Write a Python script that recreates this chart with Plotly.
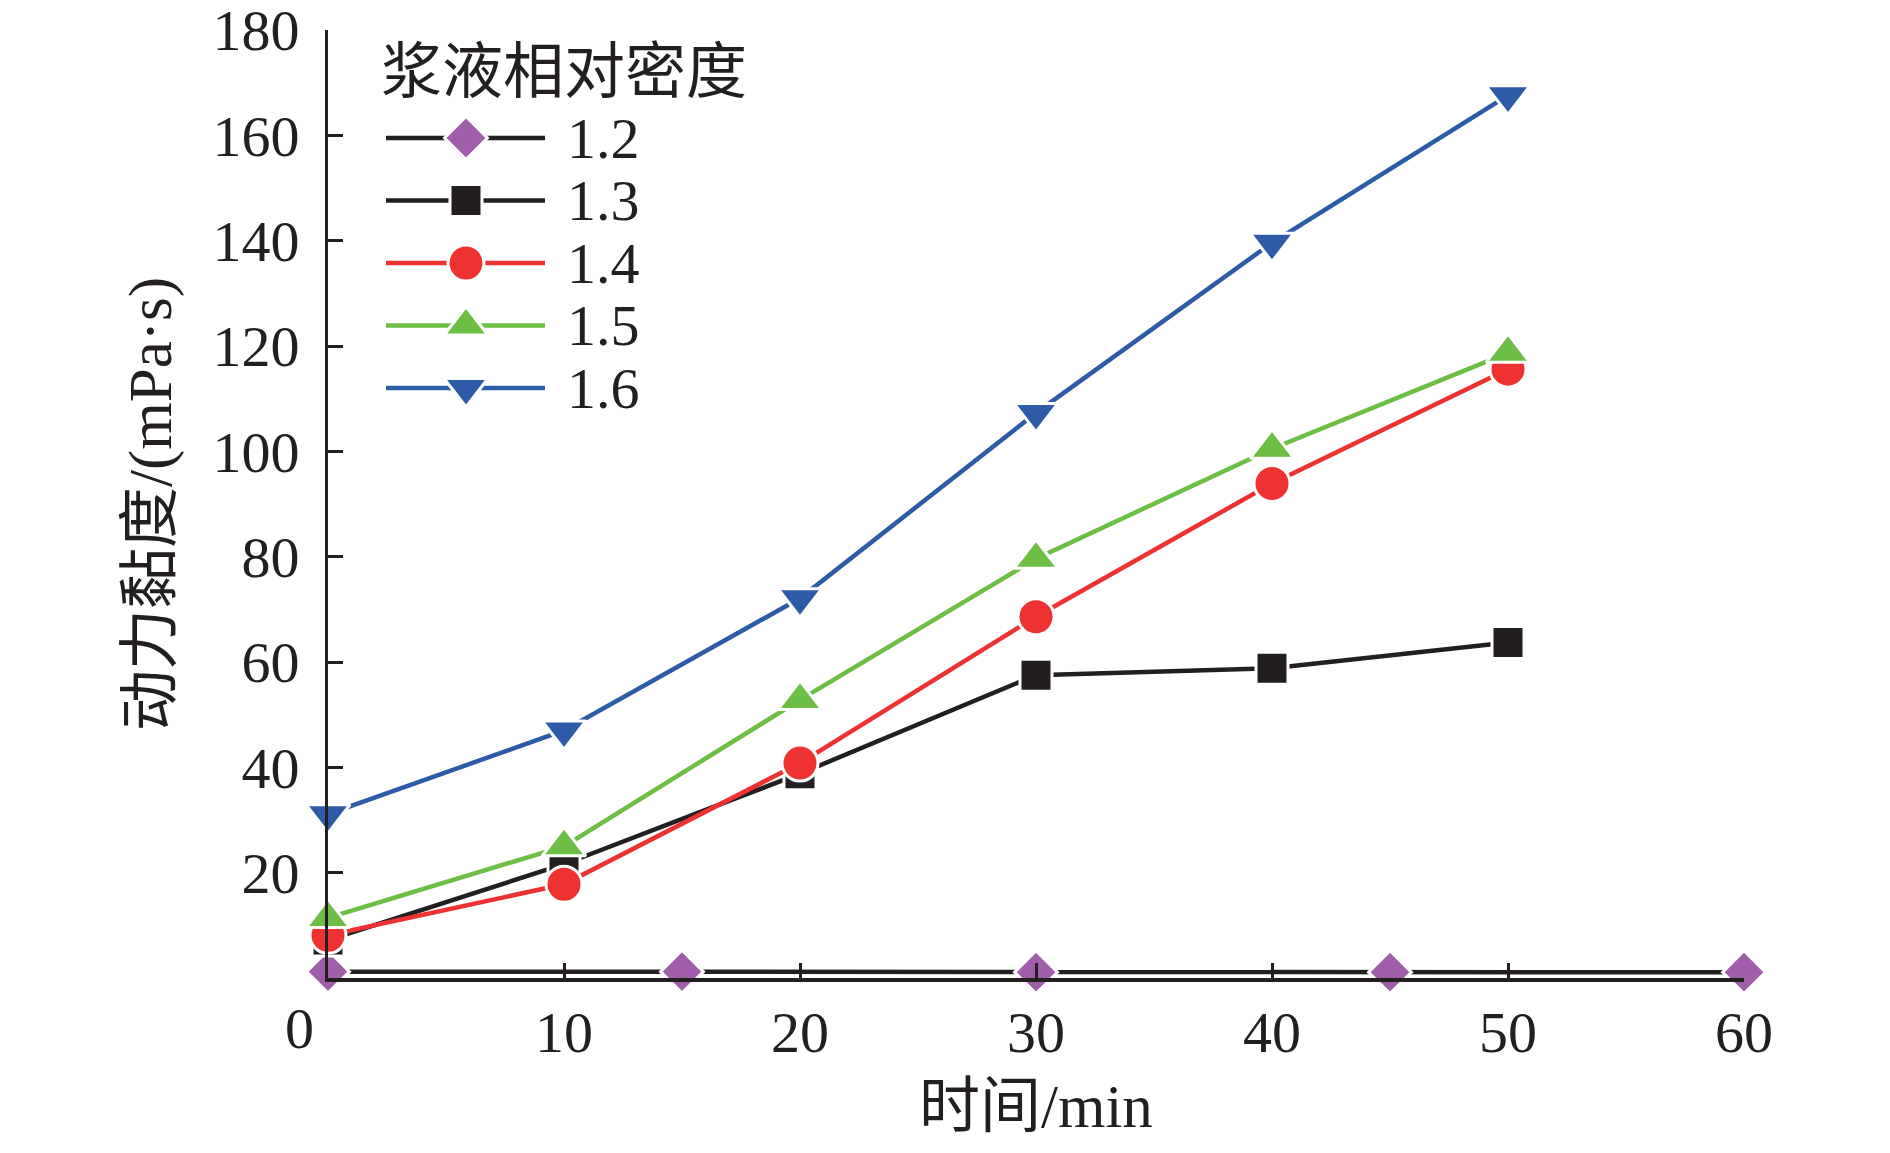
import plotly.graph_objects as go

# --- data ---
x_12 = [0, 15, 30, 45, 60]
y_12 = [1.2, 1.2, 1.1, 1.1, 1.1]

x_main = [0, 10, 20, 30, 40, 50]
y_13 = [7.2, 21.6, 38.8, 57.5, 58.8, 63.7]
y_14 = [8.1, 17.8, 40.8, 68.6, 93.9, 115.6]
y_15 = [11.4, 25.0, 52.8, 79.6, 100.5, 118.7]
y_16 = [31.1, 47.0, 72.1, 107.3, 139.6, 167.6]

series_names = ["1.2", "1.3", "1.4", "1.5", "1.6"]
x_ticks = [10, 20, 30, 40, 50, 60]
y_ticks = [20, 40, 60, 80, 100, 120, 140, 160, 180]

# --- layout in screen pixels (page body has an 8px margin) ---
OFF = 8
W, H = 1890 - 2 * OFF, 1153 - 2 * OFF
px_left, px_right = 328, 1744      # x = 0 .. 60
px_top, px_bottom = 30, 978        # y = 180 .. 0
L = px_left - OFF
R = (W + OFF) - px_right
T = px_top - OFF
B = (H + OFF) - px_bottom


def paper_x(px):
    return (px - px_left) / (px_right - px_left)


def paper_y(py):
    return (px_bottom - py) / (px_bottom - px_top)


AX = "#231F20"
FONT = "Liberation Serif, Noto Sans CJK SC, serif"
FS_NUM = 58
FS_TXT = 61
LW = 4.5

styles = [
    dict(line="#231F20", marker="#A05EAA", symbol="diamond", size=33),
    dict(line="#231F20", marker="#231F20", symbol="square", size=32),
    dict(line="#EE3232", marker="#EE3232", symbol="circle", size=36),
    dict(line="#6DBE45", marker="#6DBE45", symbol="triangle-up", size=38),
    dict(line="#2E5BA8", marker="#2E5BA8", symbol="triangle-down", size=38),
]
xs = [x_12, x_main, x_main, x_main, x_main]
ys = [y_12, y_13, y_14, y_15, y_16]

fig = go.Figure()

for name, st, xv, yv in zip(series_names, styles, xs, ys):
    fig.add_trace(go.Scatter(
        x=xv, y=yv, mode="lines+markers", name=name,
        line=dict(color=st["line"], width=LW),
        marker=dict(color=st["marker"], symbol=st["symbol"], size=st["size"],
                    opacity=1, line=dict(color="white", width=3)),
        cliponaxis=False, showlegend=False))

# --- hand-drawn legend on an overlay axis mapped to screen pixels ---
leg_x0, leg_xm, leg_x1, leg_text_x = 386, 466, 545, 565
leg_row0, leg_dy = 138, 62.5
for i, (name, st) in enumerate(zip(series_names, styles)):
    ry = leg_row0 + i * leg_dy
    fig.add_trace(go.Scatter(
        x=[leg_x0, leg_xm, leg_x1], y=[ry, ry, ry], mode="lines+markers",
        xaxis="x2", yaxis="y2",
        line=dict(color=st["line"], width=LW),
        marker=dict(color=st["marker"], symbol=st["symbol"],
                    size=[0, st["size"], 0], opacity=1,
                    line=dict(color="white", width=[0, 3, 0])),
        cliponaxis=False, showlegend=False, hoverinfo="skip"))
    fig.add_annotation(x=leg_text_x, y=ry, xref="x2", yref="y2", text=name,
                       showarrow=False, xanchor="left", yanchor="middle",
                       font=dict(family=FONT, size=FS_NUM, color=AX))

fig.add_annotation(x=379, y=72, xref="x2", yref="y2", text="浆液相对密度",
                   showarrow=False, xanchor="left", yanchor="middle",
                   font=dict(family=FONT, size=FS_TXT, color=AX))

# axis titles, placed where the reference has them
fig.add_annotation(x=paper_x((px_left + px_right) / 2), y=paper_y(1106),
                   xref="paper", yref="paper", text="时间/min",
                   showarrow=False, xanchor="center", yanchor="middle",
                   font=dict(family=FONT, size=FS_TXT, color=AX))
fig.add_annotation(x=paper_x(151), y=0.5, xref="paper", yref="paper",
                   text="动力黏度/(mPa·s)", showarrow=False, textangle=-90,
                   xanchor="center", yanchor="middle",
                   font=dict(family=FONT, size=FS_TXT, color=AX))

# origin label sits left of the y axis
fig.add_annotation(x=0, y=0, xref="x", yref="y", text="0", showarrow=False,
                   xanchor="center", yanchor="middle", xshift=-29, yshift=-50,
                   font=dict(family=FONT, size=FS_NUM, color=AX))

fig.update_layout(
    width=W, height=H,
    margin=dict(l=L, r=R, t=T, b=B, autoexpand=False),
    paper_bgcolor="white", plot_bgcolor="white",
    font=dict(family=FONT, size=FS_NUM, color=AX),
    xaxis=dict(range=[0, 60], tickvals=x_ticks, ticks="inside", ticklen=15,
               tickwidth=3, tickcolor=AX, showline=True, linewidth=4,
               linecolor=AX, showgrid=False, zeroline=False,
               automargin=False, ticklabeloverflow="allow",
               tickfont=dict(family=FONT, size=FS_NUM, color=AX)),
    yaxis=dict(range=[0, 180], tickvals=y_ticks, ticks="inside", ticklen=15,
               tickwidth=3, tickcolor=AX, showline=True, linewidth=3,
               linecolor=AX, showgrid=False, zeroline=False,
               automargin=False, ticklabeloverflow="allow",
               ticklabelstandoff=14,
               tickfont=dict(family=FONT, size=FS_NUM, color=AX)),
    xaxis2=dict(range=[px_left, px_right], overlaying="x", visible=False,
                anchor="y2", fixedrange=True, automargin=False),
    yaxis2=dict(range=[px_bottom, px_top], overlaying="y", visible=False,
                anchor="x2", fixedrange=True, automargin=False),
)

fig.write_html("out.html")
